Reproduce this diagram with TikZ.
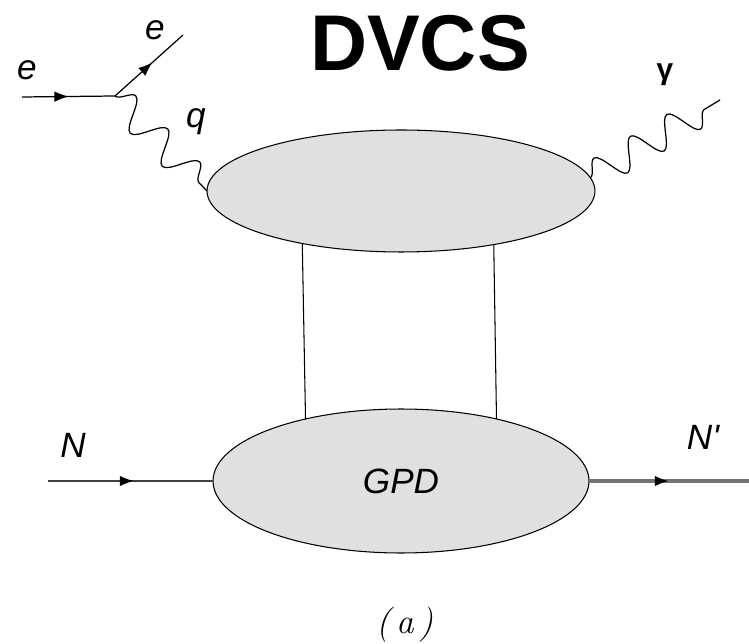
\documentclass[tikz,border=0pt]{standalone}
\usepackage{fontspec}
\newfontfamily\sffont{Liberation Sans}
\usetikzlibrary{shapes.geometric,decorations.pathmorphing,decorations.markings,arrows.meta,positioning}

\begin{document}
\begin{tikzpicture}[
    x=0.02cm, y=-0.02cm,
    blob/.style={draw, ellipse, fill=black!12, inner sep=0pt, outer sep=0pt, line width=0.6pt},
    fermion/.style={draw, line width=0.7pt, postaction={decorate},
        decoration={markings, mark=at position #1 with {\arrow{Latex[length=8pt,width=6pt,color=black]}}}},
    fermion/.default=0.5,
    photon/.style={draw, line width=0.7pt, decorate, decoration={snake, amplitude=0.3cm, segment length=#1}},
    photon/.default=0.92cm,
    lbl/.style={font=\sffont\itshape\fontsize{20}{24}\selectfont, inner sep=0pt}
]
\useasboundingbox (0,0) rectangle (749,644);

\node (title) at (420,43) {\sffont\bfseries\fontsize{45}{50}\selectfont DVCS};

% blobs
\node[blob, minimum width=7.76cm, minimum height=2.44cm] (amp) at (401,191) {};
\node[blob, lbl, minimum width=7.52cm, minimum height=2.88cm] (gpd) at (401,481) {GPD};

% external legs
\coordinate (vtx) at (115,96);
\coordinate (ein) at (22,97);
\coordinate (eout) at (183,35);
\coordinate (gend) at (720,100);
\coordinate (nin) at (48,481);
\coordinate (nout) at (749,481);

\draw[fermion] (ein) -- (vtx);
\draw[fermion=0.55] (vtx) -- (eout);
\draw[photon] (vtx) -- (amp.west);
\draw[photon=0.85cm] (amp.4) -- (gend);
\draw[fermion=0.52, black!75, line width=0.8pt] (nin) -- (gpd.west);
\draw[fermion, black!55, line width=1.8pt] (gpd.east) -- (nout);

% t-channel lines
\draw[line width=0.6pt] (amp.208.9) -- (gpd.147.2);
\draw[line width=0.6pt] (amp.330.4) -- (gpd.33.6);

% labels
\node[lbl] (ein-lbl) at (27,70) {e};
\node[lbl] (eout-lbl) at (155,30) {e};
\node[lbl] (q-lbl) at (196,122) {q};
\node[inner sep=0pt] (g-lbl) at (665,75) {\sffont\bfseries\fontsize{17}{22}\selectfont γ};
\node[lbl] (n-lbl) at (73,445) {N};
\node[lbl] (np-lbl) at (703,437) {N\textquotesingle};
\node[inner sep=0pt] (caption) at (405,625) {\fontsize{20}{24}\selectfont\textit{(\,a\,)}};

\end{tikzpicture}
\end{document}
